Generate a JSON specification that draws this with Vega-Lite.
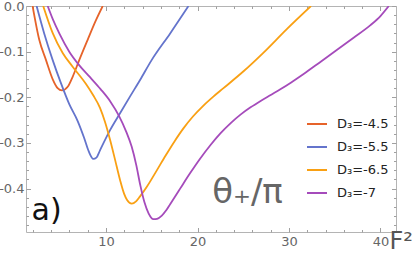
{
  "$schema": "https://vega.github.io/schema/vega-lite/v6.json",
  "width": 370,
  "height": 226,
  "autosize": "none",
  "padding": {"left": 26, "top": 6, "right": 19, "bottom": 22},
  "background": "white",
  "config": {
    "view": {"stroke": "#b4b4b4", "strokeWidth": 1},
    "font": "DejaVu Sans",
    "axis": {"grid": false, "domain": false, "labelFont": "DejaVu Sans", "labelColor": "#666666", "labelFontSize": 13, "tickColor": "#a0a0a0", "tickWidth": 1, "labelOverlap": false, "labelFlush": false}
  },
  "datasets": {
    "curves": [
      {"series": "D₃=-4.5", "x": 1.97, "y": 0},
      {"series": "D₃=-4.5", "x": 2.70, "y": -0.074},
      {"series": "D₃=-4.5", "x": 3.43, "y": -0.118},
      {"series": "D₃=-4.5", "x": 4.16, "y": -0.160},
      {"series": "D₃=-4.5", "x": 4.71, "y": -0.180},
      {"series": "D₃=-4.5", "x": 5.18, "y": -0.185},
      {"series": "D₃=-4.5", "x": 5.81, "y": -0.177},
      {"series": "D₃=-4.5", "x": 6.35, "y": -0.155},
      {"series": "D₃=-4.5", "x": 7.08, "y": -0.118},
      {"series": "D₃=-4.5", "x": 7.99, "y": -0.074},
      {"series": "D₃=-4.5", "x": 8.90, "y": -0.031},
      {"series": "D₃=-4.5", "x": 9.64, "y": 0},

      {"series": "D₃=-5.5", "x": 2.41, "y": 0},
      {"series": "D₃=-5.5", "x": 3.24, "y": -0.060},
      {"series": "D₃=-5.5", "x": 4.16, "y": -0.118},
      {"series": "D₃=-5.5", "x": 5.07, "y": -0.169},
      {"series": "D₃=-5.5", "x": 5.98, "y": -0.215},
      {"series": "D₃=-5.5", "x": 6.90, "y": -0.252},
      {"series": "D₃=-5.5", "x": 7.59, "y": -0.288},
      {"series": "D₃=-5.5", "x": 8.10, "y": -0.318},
      {"series": "D₃=-5.5", "x": 8.61, "y": -0.335},
      {"series": "D₃=-5.5", "x": 8.95, "y": -0.332},
      {"series": "D₃=-5.5", "x": 9.34, "y": -0.316},
      {"series": "D₃=-5.5", "x": 10.44, "y": -0.272},
      {"series": "D₃=-5.5", "x": 11.53, "y": -0.235},
      {"series": "D₃=-5.5", "x": 12.63, "y": -0.198},
      {"series": "D₃=-5.5", "x": 13.72, "y": -0.162},
      {"series": "D₃=-5.5", "x": 15.00, "y": -0.118},
      {"series": "D₃=-5.5", "x": 17.01, "y": -0.060},
      {"series": "D₃=-5.5", "x": 19.01, "y": 0},

      {"series": "D₃=-6.5", "x": 3.13, "y": 0},
      {"series": "D₃=-6.5", "x": 4.16, "y": -0.059},
      {"series": "D₃=-6.5", "x": 5.26, "y": -0.103},
      {"series": "D₃=-6.5", "x": 6.35, "y": -0.133},
      {"series": "D₃=-6.5", "x": 7.81, "y": -0.171},
      {"series": "D₃=-6.5", "x": 8.58, "y": -0.195},
      {"series": "D₃=-6.5", "x": 9.34, "y": -0.223},
      {"series": "D₃=-6.5", "x": 9.89, "y": -0.254},
      {"series": "D₃=-6.5", "x": 10.44, "y": -0.293},
      {"series": "D₃=-6.5", "x": 10.99, "y": -0.337},
      {"series": "D₃=-6.5", "x": 11.53, "y": -0.381},
      {"series": "D₃=-6.5", "x": 11.97, "y": -0.411},
      {"series": "D₃=-6.5", "x": 12.30, "y": -0.425},
      {"series": "D₃=-6.5", "x": 12.81, "y": -0.433},
      {"series": "D₃=-6.5", "x": 13.28, "y": -0.428},
      {"series": "D₃=-6.5", "x": 13.72, "y": -0.417},
      {"series": "D₃=-6.5", "x": 14.46, "y": -0.396},
      {"series": "D₃=-6.5", "x": 15.55, "y": -0.360},
      {"series": "D₃=-6.5", "x": 16.50, "y": -0.328},
      {"series": "D₃=-6.5", "x": 17.50, "y": -0.296},
      {"series": "D₃=-6.5", "x": 18.46, "y": -0.268},
      {"series": "D₃=-6.5", "x": 19.50, "y": -0.242},
      {"series": "D₃=-6.5", "x": 20.65, "y": -0.218},
      {"series": "D₃=-6.5", "x": 21.70, "y": -0.199},
      {"series": "D₃=-6.5", "x": 22.84, "y": -0.180},
      {"series": "D₃=-6.5", "x": 25.03, "y": -0.143},
      {"series": "D₃=-6.5", "x": 27.22, "y": -0.102},
      {"series": "D₃=-6.5", "x": 29.79, "y": -0.050},
      {"series": "D₃=-6.5", "x": 32.41, "y": 0},

      {"series": "D₃=-7", "x": 3.62, "y": 0},
      {"series": "D₃=-7", "x": 4.20, "y": -0.030},
      {"series": "D₃=-7", "x": 4.89, "y": -0.060},
      {"series": "D₃=-7", "x": 5.98, "y": -0.100},
      {"series": "D₃=-7", "x": 7.08, "y": -0.130},
      {"series": "D₃=-7", "x": 8.25, "y": -0.156},
      {"series": "D₃=-7", "x": 9.40, "y": -0.182},
      {"series": "D₃=-7", "x": 10.50, "y": -0.210},
      {"series": "D₃=-7", "x": 11.40, "y": -0.240},
      {"series": "D₃=-7", "x": 12.20, "y": -0.275},
      {"series": "D₃=-7", "x": 12.80, "y": -0.308},
      {"series": "D₃=-7", "x": 13.30, "y": -0.348},
      {"series": "D₃=-7", "x": 13.75, "y": -0.393},
      {"series": "D₃=-7", "x": 14.20, "y": -0.430},
      {"series": "D₃=-7", "x": 14.65, "y": -0.454},
      {"series": "D₃=-7", "x": 15.18, "y": -0.467},
      {"series": "D₃=-7", "x": 15.58, "y": -0.466},
      {"series": "D₃=-7", "x": 16.10, "y": -0.459},
      {"series": "D₃=-7", "x": 16.60, "y": -0.447},
      {"series": "D₃=-7", "x": 17.01, "y": -0.434},
      {"series": "D₃=-7", "x": 18.10, "y": -0.400},
      {"series": "D₃=-7", "x": 19.20, "y": -0.366},
      {"series": "D₃=-7", "x": 20.30, "y": -0.334},
      {"series": "D₃=-7", "x": 21.40, "y": -0.305},
      {"series": "D₃=-7", "x": 22.50, "y": -0.279},
      {"series": "D₃=-7", "x": 23.60, "y": -0.257},
      {"series": "D₃=-7", "x": 24.70, "y": -0.238},
      {"series": "D₃=-7", "x": 25.80, "y": -0.222},
      {"series": "D₃=-7", "x": 26.90, "y": -0.208},
      {"series": "D₃=-7", "x": 28.00, "y": -0.195},
      {"series": "D₃=-7", "x": 29.10, "y": -0.182},
      {"series": "D₃=-7", "x": 30.20, "y": -0.168},
      {"series": "D₃=-7", "x": 31.60, "y": -0.149},
      {"series": "D₃=-7", "x": 33.40, "y": -0.123},
      {"series": "D₃=-7", "x": 35.26, "y": -0.096},
      {"series": "D₃=-7", "x": 37.10, "y": -0.069},
      {"series": "D₃=-7", "x": 38.91, "y": -0.042},
      {"series": "D₃=-7", "x": 40.00, "y": -0.022},
      {"series": "D₃=-7", "x": 40.91, "y": 0}
    ],
    "labels": [
      {"text": "a)", "x": 1.86, "y": -0.468, "kind": "panel"},
      {"text": "θ₊/π", "x": 21.6, "y": -0.431, "kind": "quantity"}
    ]
  },
  "resolve": {"axis": {"x": "independent", "y": "independent"}},
  "layer": [
    {
      "data": {"name": "curves"},
      "mark": {"type": "line", "strokeWidth": 1.8, "interpolate": "monotone", "clip": true},
      "encoding": {
        "x": {"field": "x", "type": "quantitative",
          "scale": {"domain": [1.25, 41.7], "nice": false, "zero": false},
          "axis": {"orient": "bottom", "ticks": false, "values": [10, 20, 30, 40], "labelPadding": 3,
            "title": "F²", "titleFont": "DejaVu Sans", "titleFontSize": 24, "titleFontWeight": "normal", "titleColor": "#555555",
            "titleAnchor": "end", "titleAlign": "left", "titleBaseline": "alphabetic", "titleX": 363, "titleY": 16}},
        "y": {"field": "y", "type": "quantitative",
          "scale": {"domain": [-0.495, 0], "nice": false, "zero": false},
          "axis": {"orient": "left", "ticks": false, "values": [0, -0.1, -0.2, -0.3, -0.4], "labelPadding": 2, "title": null,
            "labelExpr": "replace(format(datum.value, '.1f'), '−', '-')"}},
        "color": {"field": "series", "type": "nominal",
          "scale": {"domain": ["D₃=-4.5", "D₃=-5.5", "D₃=-6.5", "D₃=-7"], "range": ["#E6632A", "#6474CC", "#F9A013", "#A54BBB"]},
          "legend": {"title": null, "orient": "none", "legendX": 280, "legendY": 107, "direction": "vertical",
            "symbolType": "stroke", "symbolSize": 400, "symbolStrokeWidth": 2, "labelFont": "DejaVu Sans", "labelFontSize": 13,
            "labelColor": "#222222", "labelOffset": 9, "rowPadding": 5, "padding": 0}}
      }
    },
    {
      "data": {"name": "curves"},
      "mark": {"type": "point", "opacity": 0},
      "encoding": {
        "x": {"field": "x", "type": "quantitative",
          "axis": {"orient": "bottom", "labels": false, "title": null, "ticks": true, "offset": -2.5, "tickSize": 2.5,
            "values": [2,4,6,8,12,14,16,18,22,24,26,28,32,34,36,38]}},
        "y": {"field": "y", "type": "quantitative",
          "axis": {"orient": "left", "labels": false, "title": null, "ticks": true, "offset": -2.5, "tickSize": 2.5,
            "values": [-0.02,-0.04,-0.06,-0.08,-0.12,-0.14,-0.16,-0.18,-0.22,-0.24,-0.26,-0.28,-0.32,-0.34,-0.36,-0.38,-0.42,-0.44,-0.46,-0.48]}}
      }
    },
    {
      "data": {"name": "curves"},
      "mark": {"type": "point", "opacity": 0},
      "encoding": {
        "x": {"field": "x", "type": "quantitative",
          "axis": {"orient": "top", "labels": false, "title": null, "ticks": true, "offset": -2.5, "tickSize": 2.5,
            "values": [2,4,6,8,12,14,16,18,22,24,26,28,32,34,36,38]}},
        "y": {"field": "y", "type": "quantitative",
          "axis": {"orient": "right", "labels": false, "title": null, "ticks": true, "offset": -2.5, "tickSize": 2.5,
            "values": [-0.02,-0.04,-0.06,-0.08,-0.12,-0.14,-0.16,-0.18,-0.22,-0.24,-0.26,-0.28,-0.32,-0.34,-0.36,-0.38,-0.42,-0.44,-0.46,-0.48]}}
      }
    },
    {
      "data": {"name": "curves"},
      "mark": {"type": "point", "opacity": 0},
      "encoding": {
        "x": {"field": "x", "type": "quantitative",
          "axis": {"orient": "bottom", "labels": false, "title": null, "ticks": true, "offset": -4.5, "tickSize": 4.5,
            "values": [10, 20, 30, 40]}},
        "y": {"field": "y", "type": "quantitative",
          "axis": {"orient": "left", "labels": false, "title": null, "ticks": true, "offset": -4.5, "tickSize": 4.5,
            "values": [0, -0.1, -0.2, -0.3, -0.4]}}
      }
    },
    {
      "data": {"name": "curves"},
      "mark": {"type": "point", "opacity": 0},
      "encoding": {
        "x": {"field": "x", "type": "quantitative",
          "axis": {"orient": "top", "labels": false, "title": null, "ticks": true, "offset": -4.5, "tickSize": 4.5,
            "values": [10, 20, 30, 40]}},
        "y": {"field": "y", "type": "quantitative",
          "axis": {"orient": "right", "labels": false, "title": null, "ticks": true, "offset": -4.5, "tickSize": 4.5,
            "values": [0, -0.1, -0.2, -0.3, -0.4]}}
      }
    },
    {
      "data": {"name": "labels"},
      "transform": [{"filter": "datum.kind === 'panel'"}],
      "mark": {"type": "text", "align": "left", "baseline": "alphabetic", "font": "DejaVu Sans", "fontSize": 30, "color": "#111111"},
      "encoding": {
        "x": {"field": "x", "type": "quantitative", "axis": null},
        "y": {"field": "y", "type": "quantitative", "axis": null},
        "text": {"field": "text"}
      }
    },
    {
      "data": {"name": "labels"},
      "transform": [{"filter": "datum.kind === 'quantity'"}],
      "mark": {"type": "text", "align": "left", "baseline": "alphabetic", "font": "DejaVu Sans", "fontSize": 34, "color": "#666666"},
      "encoding": {
        "x": {"field": "x", "type": "quantitative", "axis": null},
        "y": {"field": "y", "type": "quantitative", "axis": null},
        "text": {"field": "text"}
      }
    }
  ]
}
